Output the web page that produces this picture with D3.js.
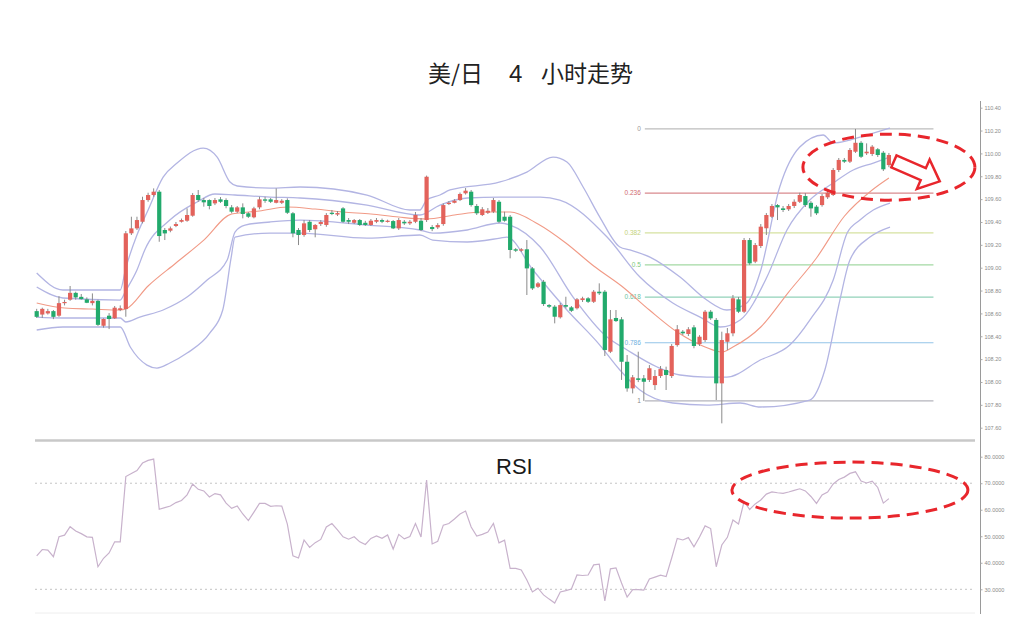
<!DOCTYPE html>
<html><head><meta charset="utf-8">
<script src="https://cdn.jsdelivr.net/npm/d3@7/dist/d3.min.js"></script>
<style>html,body{margin:0;padding:0;background:#fff;}svg{display:block;}</style>
</head><body>
<svg id="chart" width="1024" height="629"></svg>
<script>
// ---------------- DATA ----------------
const title = ["美/日", "4", "小时走势"];
const opens = [108.62,108.59,108.60,108.62,108.58,108.695,108.72,108.78,108.745,108.723,108.69,108.71,108.492,108.58,108.557,108.63,108.638,109.301,109.344,109.402,109.592,109.636,109.665,109.33,109.324,109.365,109.402,109.411,109.455,109.636,109.592,109.592,109.563,109.598,109.592,109.528,109.49,109.528,109.476,109.441,109.528,109.598,109.598,109.568,109.568,109.592,109.476,109.33,109.286,109.402,109.336,109.382,109.374,109.481,109.465,109.519,109.417,109.393,109.417,109.393,109.374,109.402,109.417,109.402,109.408,109.344,109.402,109.388,109.402,109.411,109.417,109.356,109.353,109.382,109.557,109.568,109.592,109.651,109.665,109.54,109.461,109.481,109.49,109.577,109.446,109.446,109.161,109.149,109.161,108.994,108.833,108.877,108.673,108.659,108.566,108.673,108.653,108.645,108.717,108.732,108.702,108.79,108.79,108.265,108.56,108.548,108.177,107.944,108.032,108.032,108.018,107.973,108.052,108.105,108.052,108.323,108.44,108.42,108.478,108.332,108.367,108.615,108.543,107.988,108.352,108.426,108.723,108.615,109.242,109.053,109.19,109.345,109.446,109.548,109.519,109.511,109.54,109.577,109.627,109.568,109.534,109.548,109.616,109.636,109.855,109.943,109.928,110.015,110.093,110.001,109.995,110.036,110.006,109.898];
const highs = [108.64,108.65,108.64,108.63,108.75,108.72,108.84,108.79,108.77,108.74,108.775,108.72,108.557,108.603,108.665,108.67,109.321,109.446,109.446,109.621,109.656,109.694,109.68,109.347,109.36,109.40,109.43,109.519,109.653,109.68,109.61,109.598,109.61,109.618,109.607,109.548,109.54,109.563,109.487,109.533,109.621,109.621,109.61,109.694,109.60,109.607,109.487,109.347,109.417,109.417,109.382,109.417,109.478,109.505,109.496,109.53,109.435,109.426,109.426,109.41,109.426,109.435,109.43,109.42,109.417,109.435,109.417,109.417,109.487,109.435,109.806,109.373,109.39,109.563,109.583,109.60,109.658,109.697,109.68,109.557,109.53,109.522,109.61,109.592,109.49,109.461,109.172,109.172,109.242,109.006,108.875,108.893,108.682,108.673,108.691,108.746,108.665,108.735,108.746,108.743,108.805,108.863,108.805,108.63,108.63,108.568,108.236,108.061,108.265,108.061,108.148,108.105,108.14,108.134,108.332,108.498,108.455,108.48,108.498,108.41,108.63,108.63,108.56,108.44,108.472,108.761,108.743,109.26,109.26,109.216,109.382,109.478,109.557,109.557,109.54,109.557,109.598,109.656,109.653,109.583,109.548,109.645,109.671,109.872,109.96,109.96,110.047,110.214,110.108,110.088,110.073,110.047,110.021,110.004];
const lows = [108.56,108.56,108.59,108.55,108.57,108.67,108.71,108.72,108.72,108.69,108.67,108.49,108.475,108.463,108.551,108.62,108.571,109.286,109.33,109.388,109.577,109.621,109.227,109.242,109.31,109.355,109.395,109.402,109.446,109.577,109.534,109.511,109.548,109.566,109.52,109.476,109.478,109.432,109.435,109.432,109.511,109.568,109.566,109.563,109.557,109.47,109.266,109.198,109.271,109.312,109.266,109.365,109.358,109.46,109.452,109.393,109.382,109.382,109.365,109.365,109.365,109.39,109.39,109.395,109.338,109.33,109.374,109.374,109.39,109.32,109.40,109.32,109.338,109.367,109.548,109.563,109.583,109.64,109.534,109.461,109.452,109.47,109.478,109.39,109.402,109.082,109.137,109.137,108.761,108.805,108.822,108.665,108.647,108.513,108.555,108.645,108.612,108.634,108.70,108.691,108.691,108.761,108.227,108.253,108.525,108.018,107.915,107.90,107.999,107.834,108.00,107.93,108.035,107.93,108.035,108.309,108.411,108.402,108.295,108.315,108.35,108.543,107.842,107.638,108.28,108.40,108.603,108.603,109.023,109.04,109.172,109.286,109.435,109.417,109.487,109.496,109.522,109.566,109.531,109.446,109.461,109.534,109.601,109.627,109.837,109.916,109.916,110.004,109.96,109.986,109.977,109.969,109.846,109.88];
const closes = [108.57,108.64,108.62,108.57,108.69,108.70,108.78,108.74,108.725,108.693,108.71,108.50,108.551,108.551,108.65,108.645,109.301,109.344,109.417,109.592,109.636,109.665,109.277,109.30,109.344,109.382,109.417,109.461,109.636,109.592,109.572,109.54,109.592,109.577,109.54,109.49,109.528,109.47,109.446,109.519,109.598,109.586,109.577,109.592,109.586,109.481,109.301,109.286,109.388,109.33,109.374,109.40,109.461,109.47,109.478,109.402,109.402,109.417,109.374,109.374,109.411,109.417,109.402,109.411,109.344,109.417,109.388,109.402,109.461,109.33,109.796,109.338,109.373,109.548,109.568,109.586,109.645,109.674,109.548,109.476,109.511,109.498,109.592,109.402,109.411,109.155,109.149,109.161,108.994,108.819,108.863,108.682,108.659,108.571,108.673,108.659,108.623,108.723,108.732,108.702,108.79,108.776,108.28,108.548,108.533,108.177,107.944,108.041,108.018,108.002,108.12,108.052,108.113,108.061,108.315,108.461,108.426,108.461,108.315,108.396,108.615,108.557,107.988,108.367,108.426,108.732,108.615,109.242,109.038,109.198,109.359,109.461,109.54,109.528,109.505,109.54,109.577,109.636,109.548,109.519,109.476,109.627,109.656,109.855,109.943,109.928,110.03,110.093,109.971,110.015,110.059,109.986,109.861,109.986];

// Bollinger-type envelope lines as [candle index, price]
const bandMiddle = [[0,108.691],[5,108.647],[10,108.638],[15,108.630],[16,108.638],[20,108.840],[25,109.041],[30,109.242],[35,109.470],[40,109.496],[45,109.531],[50,109.513],[55,109.487],[60,109.470],[65,109.443],[70,109.426],[75,109.461],[80,109.487],[85,109.487],[90,109.382],[95,109.216],[100,109.015],[105,108.840],[110,108.630],[115,108.437],[120,108.306],[123,108.262],[125,108.306],[130,108.481],[135,108.787],[140,109.085],[145,109.450],[150,109.680],[153,109.785]];
const bandUpperOuter = [[0,108.953],[4.7,108.805],[15,108.805],[16,108.997],[18,109.286],[20,109.505],[22.7,109.793],[25.2,109.916],[29.9,110.047],[32.4,109.968],[34.7,109.750],[36,109.715],[41.9,109.697],[47.3,109.706],[59.3,109.636],[67,109.505],[68.8,109.505],[70,109.592],[72.4,109.636],[74.2,109.680],[83.2,109.750],[88,109.837],[92.7,109.968],[95.2,109.925],[98.1,109.706],[101.1,109.443],[104.7,109.181],[106.5,109.155],[110.1,109.093],[115.5,108.918],[120.3,108.717],[123.9,108.630],[127.5,108.691],[129.9,108.962],[133.4,109.706],[137,110.056],[141.2,110.161],[143,110.091],[146,110.117],[150.2,110.178],[153.2,110.222]];
const bandUpperInner = [[0,108.831],[4.7,108.735],[15,108.717],[16,108.800],[18,108.980],[19.4,109.155],[23.9,109.417],[28.8,109.575],[32,109.645],[35.6,109.636],[41.9,109.618],[47.3,109.610],[59.3,109.548],[68.8,109.461],[72.4,109.548],[77.3,109.610],[83.2,109.618],[90.4,109.618],[93.9,109.592],[102.4,109.268],[108.3,108.918],[114.2,108.691],[119.1,108.568],[122.7,108.481],[126.3,108.542],[131.1,108.918],[134.7,109.330],[138.8,109.592],[143,109.741],[146.6,109.855],[150.2,109.916],[153.2,109.968]];
const bandLowerInner = [[0,108.568],[4.7,108.560],[15,108.560],[16,108.525],[18.5,108.568],[22.7,108.630],[27,108.743],[30.6,108.892],[34.2,109.067],[35.6,109.312],[37.4,109.373],[41.9,109.400],[47.3,109.417],[59.3,109.373],[68.8,109.330],[71.1,109.303],[77.3,109.330],[83.2,109.391],[85,109.373],[90.4,109.181],[96.3,108.743],[102.4,108.393],[106,108.280],[111.4,108.131],[115.5,108.061],[120.3,108.043],[123.9,108.043],[129.9,108.192],[135.2,108.323],[138.8,108.542],[143,108.892],[145.5,109.303],[147.8,109.417],[150.2,109.505],[153.2,109.566]];
const bandLowerOuter = [[0,108.455],[4.7,108.481],[15,108.481],[16.8,108.306],[19.8,108.148],[21.6,108.122],[23.9,108.166],[27,108.253],[31.1,108.429],[33.4,108.630],[34.9,109.085],[35.6,109.268],[41.9,109.303],[47.3,109.303],[59.3,109.259],[68.8,109.286],[71.1,109.242],[77.3,109.225],[83.2,109.259],[84.4,109.268],[89.1,108.980],[95.2,108.630],[101.1,108.323],[104.7,108.105],[108.3,107.930],[114.2,107.816],[120.3,107.798],[126.3,107.816],[129.9,107.781],[138.8,107.842],[141.5,108.105],[144.2,108.717],[146,109.067],[149.6,109.268],[153.2,109.356]];

const rsiValues = [42.6,45.0,44.8,42.3,49.8,50.4,53.6,52.0,51.0,49.8,49.6,38.5,41.7,43.7,47.9,47.9,72.5,73.7,74.8,77.6,78.6,79.1,60.2,60.8,61.4,62.7,63.5,65.6,69.7,67.7,67.1,64.8,66.1,65.6,62.5,60.5,61.4,58.4,55.9,59.1,62.4,62.4,61.3,61.5,61.4,54.6,42.6,41.8,48.6,45.8,47.6,48.8,53.5,54.8,52.4,49.8,48.9,49.8,47.9,46.9,49.2,50.1,49.2,50.5,45.2,50.7,49.0,49.9,54.8,49.7,71.2,47.1,48.1,54.2,54.8,56.5,58.4,59.5,53.5,50.1,50.7,51.6,54.8,47.5,48.5,37.9,37.9,37.3,33.5,29.0,30.4,27.9,26.3,24.8,29.0,29.5,30.1,35.4,35.2,35.4,39.2,39.5,25.6,37.7,38.1,32.4,27.1,29.9,29.9,29.7,33.9,34.6,35.3,34.8,41.8,49.2,48.6,49.5,46.0,49.7,53.9,52.9,38.5,46.7,49.6,56.1,54.6,63.1,60.1,62.2,63.7,65.9,66.7,66.4,66.2,66.7,67.3,67.9,67.1,65.0,62.4,65.6,66.7,69.7,71.4,72.3,73.7,74.3,70.8,70.1,70.8,68.4,62.5,64.2];

const fibRatios = ["0","0.236","0.382","0.5","0.618","0.786","1"];
const fibHigh = 110.214, fibLow = 107.834;
const fibStartIndex = 109, fibEndIndex = 161;
const priceTicks = [107.6,107.8,108.0,108.2,108.4,108.6,108.8,109.0,109.2,109.4,109.6,109.8,110.0,110.2,110.4];
const rsiTicks = [30,40,50,60,70,80];
const rsiLevels = [30,70];

// ---------------- SCALES ----------------
const svg = d3.select("#chart");
svg.append("rect").attr("width",1024).attr("height",629).attr("fill","#fff");
const x = d3.scaleLinear().domain([0, 153]).range([36.7, 888.9]);
const y = d3.scaleLinear().domain([107.6, 110.4]).range([427.7, 107.7]);
const yr = d3.scaleLinear().domain([30, 80]).range([589.3, 456.7]);
const left = 35, right = 975, axisX = 980.5;

// title
const t = svg.append("text").attr("y", 82).attr("font-family","'Noto Sans CJK SC','Liberation Sans',sans-serif").attr("font-size",23).attr("fill","#222");
t.append("tspan").attr("x",428).text(title[0]);
t.append("tspan").attr("x",509).attr("font-family","'Liberation Sans',Arial,sans-serif").attr("font-size",24).text(title[1]);
t.append("tspan").attr("x",541).text(title[2]);

// fib lines
const fibColors = ["#bdbdbd","#d98a8e","#d6e2a0","#a3d9a3","#92d2b9","#93c4e8","#b4b4bc"];
const fibLabelColors = ["#999","#d06a70","#c3d27a","#7cc77c","#6cc3a0","#6fb0e0","#888"];
const fg = svg.append("g");
fibRatios.forEach((r,k) => {
  const p = fibHigh - (+r)*(fibHigh - fibLow);
  fg.append("line").attr("x1", x(fibStartIndex)+1).attr("x2", x(fibEndIndex))
    .attr("y1", y(p)).attr("y2", y(p)).attr("stroke", fibColors[k]).attr("stroke-width",1.2);
  fg.append("text").attr("x", x(fibStartIndex)-3).attr("y", y(p)+2).attr("text-anchor","end")
    .attr("font-family","'Liberation Sans',Arial,sans-serif").attr("font-size",6.5).attr("fill",fibLabelColors[k]).text(r);
});

// bands
const line = d3.line().x(d=>x(d[0])).y(d=>y(d[1])).curve(d3.curveMonotoneX);
[bandUpperOuter, bandUpperInner, bandLowerInner, bandLowerOuter].forEach(b => {
  svg.append("path").attr("d", line(b)).attr("fill","none").attr("stroke","#b3b5e3").attr("stroke-width",1.3);
});
svg.append("path").attr("d", line(bandMiddle)).attr("fill","none").attr("stroke","#f19a86").attr("stroke-width",1.1);

// candles
const cg = svg.append("g");
const bw = 4.2;
opens.forEach((o,i) => {
  const c = closes[i], up = c >= o;
  const col = up ? "#e3625b" : "#22aa6c";
  cg.append("line").attr("x1",x(i)).attr("x2",x(i)).attr("y1",y(highs[i])).attr("y2",y(lows[i]))
    .attr("stroke","#8a8a8a").attr("stroke-width",1);
  const top = y(Math.max(o,c)), bot = y(Math.min(o,c));
  cg.append("rect").attr("x",x(i)-bw/2).attr("y",top).attr("width",bw).attr("height",Math.max(1.2,bot-top)).attr("fill",col);
});

// price axis
svg.append("line").attr("x1",axisX).attr("x2",axisX).attr("y1",101).attr("y2",614).attr("stroke","#9a9a9a").attr("stroke-width",1);
const pa = svg.append("g").attr("transform",`translate(${axisX},0)`)
  .call(d3.axisRight(y).tickValues(priceTicks).tickSize(2).tickPadding(2).tickFormat(d3.format(".2f")));
pa.select(".domain").remove();
pa.selectAll("line").attr("stroke","#aaa");
pa.selectAll("text").attr("font-size",5.5).attr("fill","#8a8a8a").attr("font-family","'Liberation Sans',Arial,sans-serif");

// separator
svg.append("line").attr("x1",left).attr("x2",right).attr("y1",440.5).attr("y2",440.5).attr("stroke","#c8c8c8").attr("stroke-width",2.5);
svg.append("line").attr("x1",left).attr("x2",right).attr("y1",613).attr("y2",613).attr("stroke","#eeeeee").attr("stroke-width",1);

// RSI
rsiLevels.forEach(v => {
  svg.append("line").attr("x1",left).attr("x2",right).attr("y1",yr(v)).attr("y2",yr(v))
    .attr("stroke","#c4c4c4").attr("stroke-width",1).attr("stroke-dasharray","2,3");
});
const rl = d3.line().x((d,i)=>x(i)).y(d=>yr(d));
svg.append("path").attr("d", rl(rsiValues)).attr("fill","none").attr("stroke","#c8b2cc").attr("stroke-width",1.2);
const ra = svg.append("g").attr("transform",`translate(${axisX},0)`)
  .call(d3.axisRight(yr).tickValues(rsiTicks).tickSize(2).tickPadding(2).tickFormat(d3.format(".4f")));
ra.select(".domain").remove();
ra.selectAll("line").attr("stroke","#aaa");
ra.selectAll("text").attr("font-size",5.5).attr("fill","#8a8a8a").attr("font-family","'Liberation Sans',Arial,sans-serif");
svg.append("text").attr("x",496).attr("y",474).attr("font-family","'Liberation Sans',Arial,sans-serif").attr("font-size",22).attr("fill","#1a1a1a").text("RSI");

// annotations
const red = "#e8262c";
svg.append("ellipse").attr("cx", x(153)).attr("cy", y(109.88)).attr("rx",86).attr("ry",33)
  .attr("fill","none").attr("stroke",red).attr("stroke-width",3).attr("stroke-dasharray","12,7");
svg.append("ellipse").attr("cx", x(146)).attr("cy", yr(67.4)).attr("rx",118).attr("ry",28)
  .attr("fill","none").attr("stroke",red).attr("stroke-width",3).attr("stroke-dasharray","12,7");
const ax0 = x(153)+5, ay0 = y(109.93);
svg.append("path")
  .attr("d","M0,-6.5 L32,-6.5 L32,-16 L50,0 L32,16 L32,6.5 L0,6.5 Z")
  .attr("transform",`translate(${ax0},${ay0}) rotate(23.5)`)
  .attr("fill","#fff").attr("stroke",red).attr("stroke-width",2.5).attr("stroke-linejoin","miter");
</script>
</body></html>
